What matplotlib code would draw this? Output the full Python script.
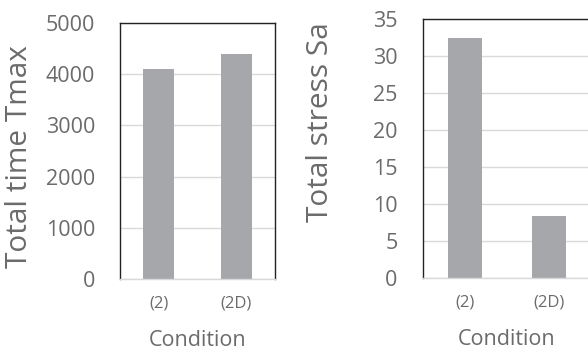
import matplotlib.pyplot as plt

plt.rcParams['font.family'] = ['Open Sans', 'DejaVu Sans']

# Data
conditions = ['(2)', '(2D)']
total_time = [4100, 4400]
total_stress = [32.4, 8.4]

text_color = '#6B6B6B'
bar_color = '#A6A7AB'
grid_color = '#D9D9D9'

fig = plt.figure(figsize=(5.88, 3.53), dpi=100)
ax1 = fig.add_axes([0.2041, 0.2105, 0.2636, 0.7235])
ax2 = fig.add_axes([0.7189, 0.2133, 0.2857, 0.7329])


def style_axis(ax, values, ymax, step, ylabel, label_x, label_y):
    x = list(range(len(conditions)))
    ax.bar(x, values, width=0.4, color=bar_color, zorder=2)
    ax.set_xlim(-0.5, len(conditions) - 0.5)
    ax.set_ylim(0, ymax)
    ax.set_yticks(range(0, ymax + 1, step))
    ax.set_xticks(x)
    ax.set_xticklabels(conditions)
    ax.yaxis.grid(True, color=grid_color, linewidth=1, zorder=0)
    ax.set_axisbelow(True)
    for side in ['left', 'top', 'right']:
        ax.spines[side].set_color('#222222')
        ax.spines[side].set_linewidth(1)
    ax.spines['bottom'].set_color(grid_color)
    ax.spines['bottom'].set_linewidth(1)
    ax.tick_params(axis='y', length=0, pad=18, labelsize=15.5, labelcolor=text_color)
    ax.tick_params(axis='x', length=0, pad=12, labelsize=12, labelcolor=text_color)
    ax.set_ylabel(ylabel, fontsize=21.5, color=text_color)
    ax.yaxis.set_label_coords(label_x, label_y)
    ax.set_xlabel('Condition', fontsize=15.5, color=text_color)


style_axis(ax1, total_time, 5000, 1000, 'Total time Tmax', -0.555, 0.478)
ax1.xaxis.set_label_coords(0.5, -0.2)
style_axis(ax2, total_stress, 35, 5, 'Total stress Sa', -0.522, 0.6)
ax2.xaxis.set_label_coords(0.5, -0.2)

plt.savefig('out.png', dpi=100)
